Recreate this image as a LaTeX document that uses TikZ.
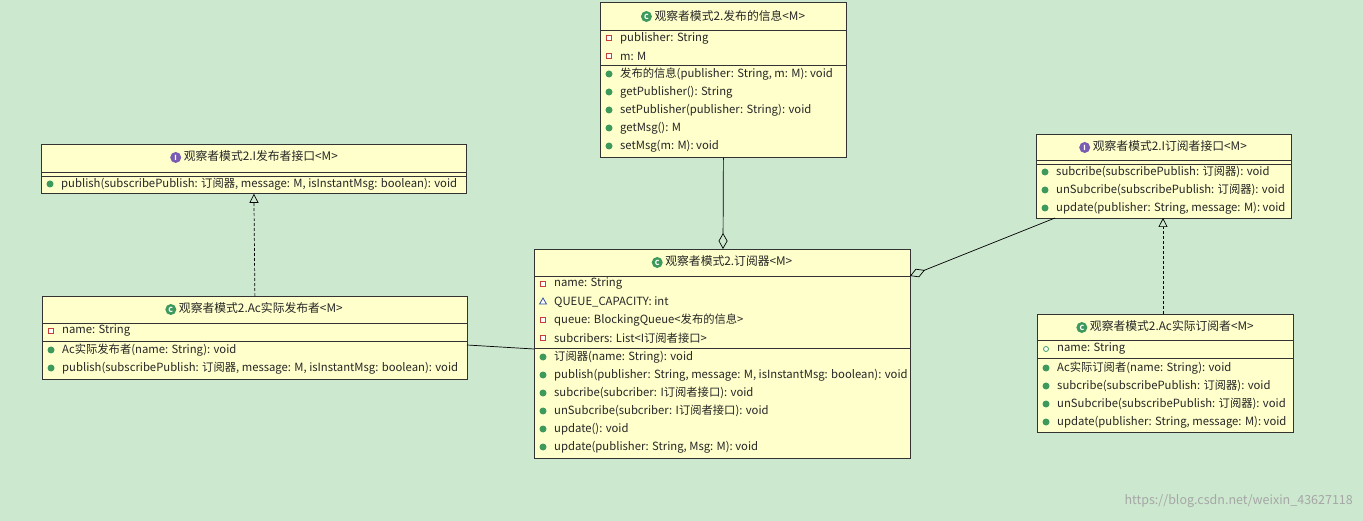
\documentclass[tikz,border=0pt]{standalone}
\usepackage{fontspec}
\setmainfont{Noto Sans CJK SC}
\usetikzlibrary{arrows.meta,shapes.geometric}
\definecolor{bg}{HTML}{CCE8CF}
\definecolor{boxfill}{HTML}{FFFFCC}
\definecolor{grn}{HTML}{3E9A5C}
\definecolor{prp}{HTML}{7A5DB2}
\definecolor{redc}{HTML}{C83C3C}
\definecolor{blu}{HTML}{3050A0}
\tikzset{
  box/.style={draw=black!80, fill=boxfill, anchor=north west, inner sep=0pt, line width=0.8pt},
  txt/.style={anchor=west, inner sep=0pt, font=\fontsize{11.3}{12}\selectfont, text=black!85},
  hdr/.style={inner sep=0pt, font=\fontsize{11.8}{13}\selectfont, text=black!85},
  sep/.style={draw=black!80, line width=0.8pt},
  pub/.style={circle, fill=grn, minimum size=7pt, inner sep=0pt},
  pubf/.style={circle, draw=grn, fill=white, minimum size=5pt, inner sep=0pt, line width=0.8pt},
  priv/.style={rectangle, draw=redc, fill=white, minimum size=5pt, inner sep=0pt, line width=1.2pt},
  prot/.style={regular polygon, regular polygon sides=3, draw=blu, fill=white, minimum size=8pt, inner sep=0pt, line width=0.8pt},
  assoc/.style={line width=0.7pt, black},
  agg/.style={assoc, -{Diamond[open, length=16pt, width=9pt]}},
  real/.style={line width=0.7pt, dashed, dash pattern=on 3pt off 2pt, -{Triangle[open, length=9pt, width=9pt]}},
}
\newcommand\cic{\tikz[baseline=-3.5pt]\node[circle,fill=grn,minimum size=11pt,inner sep=0pt,text=white,font=\fontsize{7}{7}\bfseries\selectfont]{C};}
\newcommand\iic{\tikz[baseline=-3.5pt]\node[circle,fill=prp,minimum size=11pt,inner sep=0pt,text=white,font=\fontsize{7}{7}\bfseries\selectfont]{I};}
\newcommand\umlrow[5]{\node[#3] (#5i) at (#1+9,#2) {}; \node[txt] (#5t) at (#1+20,#2) {#4};}
\begin{document}
\begin{tikzpicture}[x=1pt,y=-1pt]
\useasboundingbox[fill=bg] (0,0) rectangle (1363,521);
% info
\node[box, minimum width=246pt, minimum height=155pt] (info) at (600,2) {};
\node[hdr] (infoh) at (723,16) {\cic\ 观察者模式2.发布的信息<M>};
\draw[sep] (600,30) -- (846,30); \draw[sep] (600,65) -- (846,65);
\umlrow{600}{38}{priv}{publisher: String}{ia}
\umlrow{600}{56}{priv}{m: M}{ib}
\umlrow{600}{74}{pub}{发布的信息(publisher: String, m: M): void}{ic}
\umlrow{600}{92}{pub}{getPublisher(): String}{id}
\umlrow{600}{110}{pub}{setPublisher(publisher: String): void}{ie}
\umlrow{600}{128}{pub}{getMsg(): M}{if}
\umlrow{600}{146}{pub}{setMsg(m: M): void}{ig}
% IPublisher
\node[box, minimum width=425pt, minimum height=49pt] (ipub) at (41,144) {};
\node[hdr] (ipubh) at (254,157) {\iic\ 观察者模式2.I发布者接口<M>};
\draw[sep] (41,172) -- (466,172); \draw[sep] (41,176) -- (466,176);
\umlrow{41}{184}{pub}{publish(subscribePublish: 订阅器, message: M, isInstantMsg: boolean): void}{pa}
% AcPublisher
\node[box, minimum width=425pt, minimum height=83pt] (acpub) at (42,296) {};
\node[hdr] (acpubh) at (254,309) {\cic\ 观察者模式2.Ac实际发布者<M>};
\draw[sep] (42,323) -- (467,323); \draw[sep] (42,341) -- (467,341);
\umlrow{42}{331}{priv}{name: String}{qa}
\umlrow{42}{350}{pub}{Ac实际发布者(name: String): void}{qb}
\umlrow{42}{368}{pub}{publish(subscribePublish: 订阅器, message: M, isInstantMsg: boolean): void}{qc}
% Subscriber
\node[box, minimum width=376pt, minimum height=209pt] (sub) at (534,249) {};
\node[hdr] (subh) at (722,262) {\cic\ 观察者模式2.订阅器<M>};
\draw[sep] (534,276) -- (910,276); \draw[sep] (534,348) -- (910,348);
\umlrow{534}{284}{priv}{name: String}{sa}
\umlrow{534}{302}{prot}{QUEUE\_CAPACITY: int}{sb}
\umlrow{534}{320}{priv}{queue: BlockingQueue<发布的信息>}{sc}
\umlrow{534}{338}{priv}{subcribers: List<I订阅者接口>}{sd}
\umlrow{534}{357}{pub}{订阅器(name: String): void}{se}
\umlrow{534}{375}{pub}{publish(publisher: String, message: M, isInstantMsg: boolean): void}{sf}
\umlrow{534}{393}{pub}{subcribe(subcriber: I订阅者接口): void}{sg}
\umlrow{534}{411}{pub}{unSubcribe(subcriber: I订阅者接口): void}{sh}
\umlrow{534}{429}{pub}{update(): void}{si}
\umlrow{534}{447}{pub}{update(publisher: String, Msg: M): void}{sj}
% ISubscriber
\node[box, minimum width=255pt, minimum height=84pt] (isub) at (1036,134) {};
\node[hdr] (isubh) at (1163,147) {\iic\ 观察者模式2.I订阅者接口<M>};
\draw[sep] (1036,160) -- (1291,160); \draw[sep] (1036,164) -- (1291,164);
\umlrow{1036}{172}{pub}{subcribe(subscribePublish: 订阅器): void}{ra}
\umlrow{1036}{190}{pub}{unSubcribe(subscribePublish: 订阅器): void}{rb}
\umlrow{1036}{208}{pub}{update(publisher: String, message: M): void}{rc}
% AcSubscriber
\node[box, minimum width=256pt, minimum height=118pt] (acsub) at (1037,314) {};
\node[hdr] (acsubh) at (1165,327) {\cic\ 观察者模式2.Ac实际订阅者<M>};
\draw[sep] (1037,340) -- (1293,340); \draw[sep] (1037,358) -- (1293,358);
\umlrow{1037}{349}{pubf}{name: String}{ta}
\umlrow{1037}{368}{pub}{Ac实际订阅者(name: String): void}{tb}
\umlrow{1037}{386}{pub}{subcribe(subscribePublish: 订阅器): void}{tc}
\umlrow{1037}{404}{pub}{unSubcribe(subscribePublish: 订阅器): void}{td}
\umlrow{1037}{422}{pub}{update(publisher: String, message: M): void}{te}
% connectors
\coordinate (c1) at (723,249);
\draw[agg] (info.south) -- (c1);
\coordinate (c2) at (1055,218);
\coordinate (c3) at (910,276);
\draw[agg] (c2) -- (c3);
\draw[real] (acpub.north) -- (ipub.south);
\coordinate (c4) at (1163,314);
\coordinate (c5) at (1163,218);
\draw[real] (c4) -- (c5);
\coordinate (c6) at (467,345);
\coordinate (c7) at (534,349);
\draw[assoc] (c6) -- (c7);
\node[anchor=east, inner sep=0pt, text=black!35, font=\fontsize{12.5}{14}\selectfont] (wm) at (1353,501) {https://blog.csdn.net/weixin\_43627118};
\end{tikzpicture}
\end{document}
